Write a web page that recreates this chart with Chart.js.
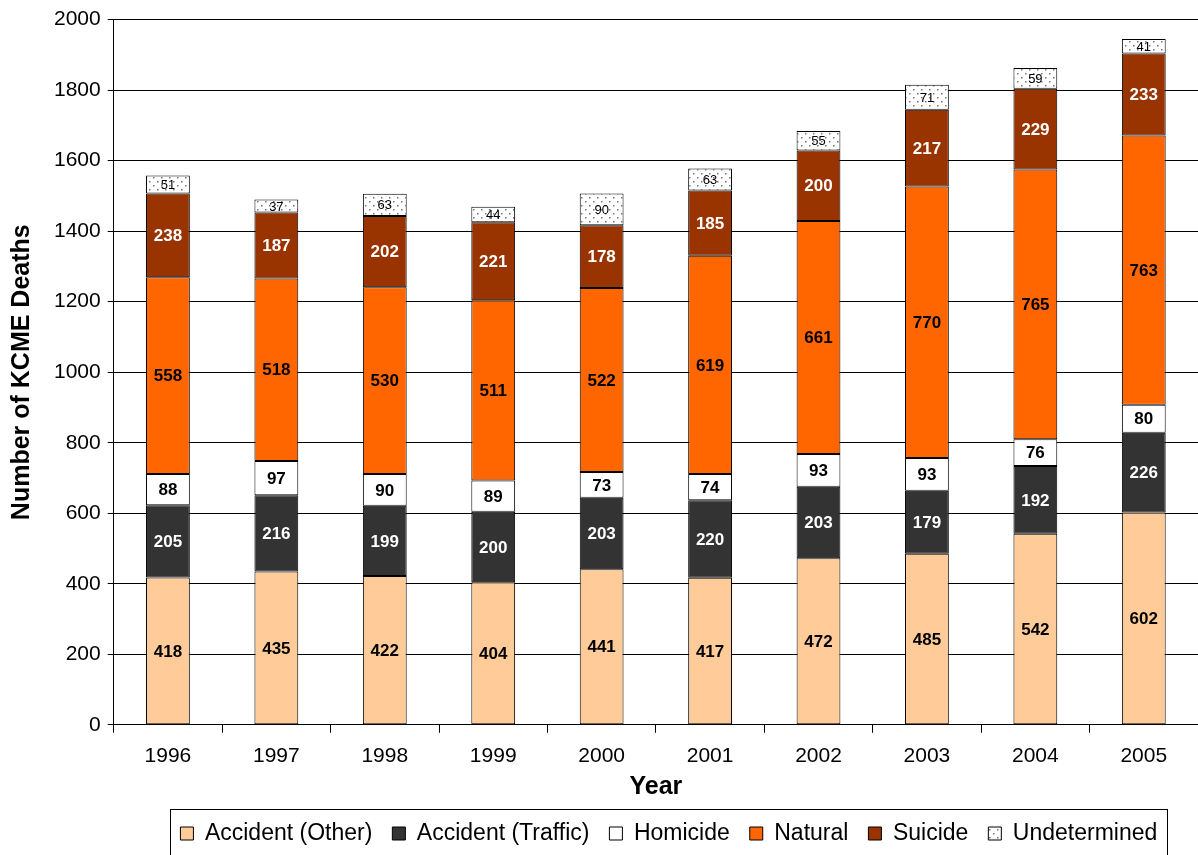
<!DOCTYPE html>
<html>
<head>
<meta charset="UTF-8">
<title>KCME Deaths</title>
<script src="https://cdn.jsdelivr.net/npm/chart.js@4/dist/chart.umd.min.js"></script>
<style>
	html, body { margin: 0; padding: 0; background: #fff; }
	#container { width: 1198px; height: 855px; }
</style>
</head>
<body>
<div id="container"><canvas id="barcanvas"></canvas></div>
<script>
var years = ['1996', '1997', '1998', '1999', '2000', '2001', '2002', '2003', '2004', '2005'];
var yTicks = [0, 200, 400, 600, 800, 1000, 1200, 1400, 1600, 1800, 2000];
var accidentOther = [418, 435, 422, 404, 441, 417, 472, 485, 542, 602];
var accidentTraffic = [205, 216, 199, 200, 203, 220, 203, 179, 192, 226];
var homicide = [88, 97, 90, 89, 73, 74, 93, 93, 76, 80];
var natural = [558, 518, 530, 511, 522, 619, 661, 770, 765, 763];
var suicide = [238, 187, 202, 221, 178, 185, 200, 217, 229, 233];
var undetermined = [51, 37, 63, 44, 90, 63, 55, 71, 59, 41];

// dotted fill for "Undetermined"
function dotPattern() {
	var c = document.createElement('canvas');
	c.width = 8; c.height = 8;
	var g = c.getContext('2d');
	g.fillStyle = '#ffffff';
	g.fillRect(0, 0, 8, 8);
	g.fillStyle = '#777777';
	g.fillRect(1, 1, 1.5, 1.5);
	g.fillRect(5, 5, 1.5, 1.5);
	return g.createPattern(c, 'repeat');
}

var FONT = "'Liberation Sans', Arial, sans-serif";

function makeSet(label, data, fill, textColor, bold) {
	return {
		label: label,
		data: data,
		backgroundColor: fill,
		borderColor: '#000000',
		borderWidth: 1,
		borderSkipped: false,
		textColor: textColor,
		textBold: bold
	};
}

// draw the values inside each segment
var valueLabels = {
	id: 'valueLabels',
	afterDatasetsDraw: function(chart) {
		var ctx = chart.ctx;
		ctx.save();
		ctx.textAlign = 'center';
		ctx.textBaseline = 'middle';
		chart.data.datasets.forEach(function(ds, i) {
			var meta = chart.getDatasetMeta(i);
			ctx.fillStyle = ds.textColor;
			ctx.font = (ds.textBold ? 'bold 17px ' : '13px ') + FONT;
			meta.data.forEach(function(bar, j) {
				var y = (bar.y + bar.base) / 2;
				ctx.fillText(ds.data[j], bar.x, y + 1);
			});
		});
		ctx.restore();
	}
};

// nudge the legend a bit right and frame it
var LEGEND_SHIFT = 13;
var legendFrame = {
	id: 'legendFrame',
	afterLayout: function(chart) {
		chart.legend.left += LEGEND_SHIFT;
		chart.legend.right += LEGEND_SHIFT;
	},
	afterDraw: function(chart) {
		var lg = chart.legend;
		var boxes = lg.legendHitBoxes;
		var last = boxes[boxes.length - 1];
		var span = last.left + last.width - boxes[0].left;
		var mid = (lg.left + lg.right) / 2;
		var ctx = chart.ctx;
		ctx.save();
		ctx.strokeStyle = '#000000';
		ctx.lineWidth = 1;
		ctx.strokeRect(Math.round(mid - span / 2 - 10) + 0.5, 809.5, Math.round(span + 20), 60);
		ctx.restore();
	}
};

window.onload = function() {
	var ctx = document.getElementById('barcanvas').getContext('2d');
	window.myBar = new Chart(ctx, {
		type: 'bar',
		data: {
			labels: years,
			datasets: [
				makeSet('Accident (Other)', accidentOther, '#FFCC99', '#000000', true),
				makeSet('Accident (Traffic)', accidentTraffic, '#333333', '#ffffff', true),
				makeSet('Homicide', homicide, '#ffffff', '#000000', true),
				makeSet('Natural', natural, '#FF6600', '#000000', true),
				makeSet('Suicide', suicide, '#993300', '#ffffff', true),
				makeSet('Undetermined', undetermined, dotPattern(), '#000000', false)
			]
		},
		plugins: [valueLabels, legendFrame],
		options: {
			responsive: true,
			maintainAspectRatio: false,
			animation: false,
			layout: { padding: { left: 7, right: -8, top: 19, bottom: 0 } },
			datasets: { bar: { categoryPercentage: 1, barPercentage: 0.404 } },
			plugins: {
				legend: {
					position: 'bottom',
					fullSize: false,
					labels: {
						color: '#000000',
						font: { family: FONT, size: 23 },
						boxWidth: 13,
						boxHeight: 13,
						padding: 20
					}
				},
				tooltip: { enabled: false }
			},
			scales: {
				x: {
					stacked: true,
					grid: {
						display: true,
						drawOnChartArea: false,
						offset: true,
						color: '#000000',
						tickLength: 8
					},
					border: { color: '#000000', width: 1 },
					ticks: { color: '#000000', font: { family: FONT, size: 21 }, padding: 11 },
					title: {
						display: true,
						text: 'Year',
						color: '#000000',
						font: { family: FONT, size: 25, weight: 'bold' },
						padding: { top: -8, bottom: 0 }
					}
				},
				y: {
					stacked: true,
					min: 0,
					max: 2000,
					afterBuildTicks: function(scale) {
						scale.ticks = yTicks.map(function(v) { return { value: v }; });
					},
					ticks: {
						color: '#000000',
						font: { family: FONT, size: 21 },
						padding: 7,
						callback: function(v) { return String(v); }
					},
					grid: { color: '#000000', tickLength: 6 },
					border: { color: '#000000', width: 1 },
					title: {
						display: true,
						text: 'Number of KCME Deaths',
						color: '#000000',
						font: { family: FONT, size: 25, weight: 'bold' },
						padding: { top: 0, bottom: 10 }
					}
				}
			}
		}
	});
};
</script>
</body>
</html>
